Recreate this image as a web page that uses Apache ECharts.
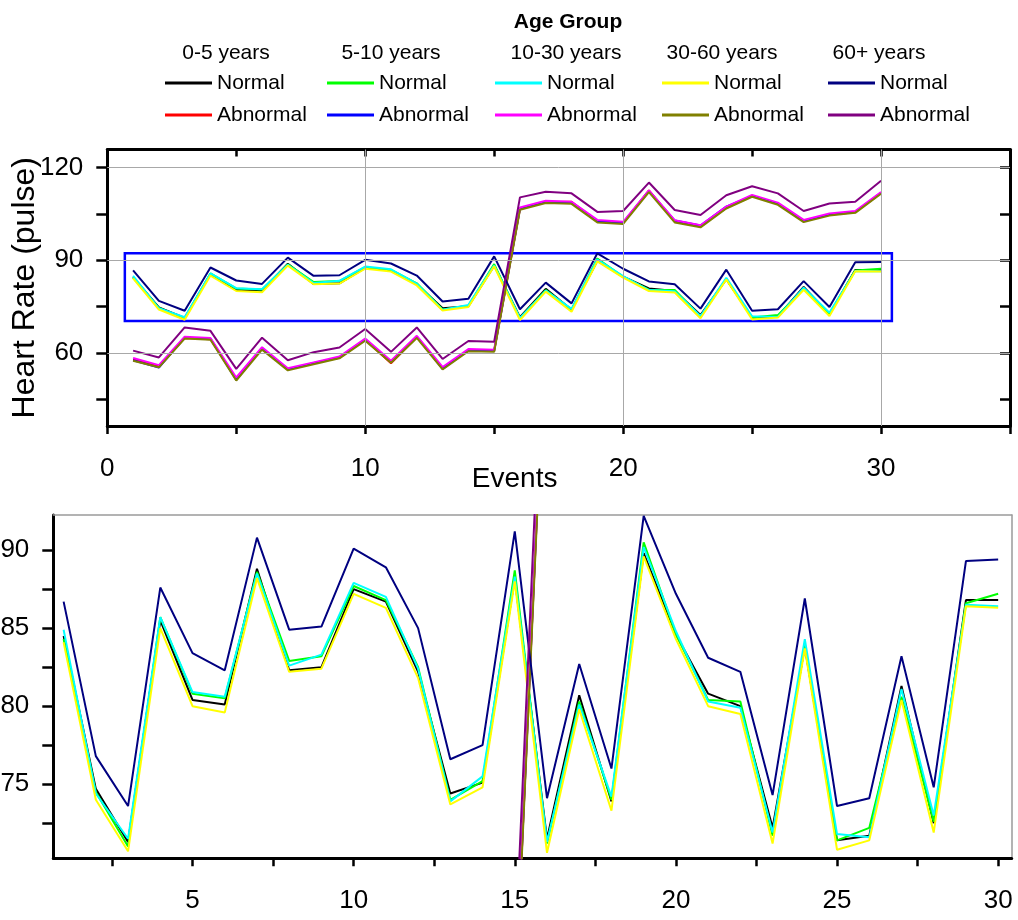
<!DOCTYPE html>
<html>
<head>
<meta charset="utf-8">
<title>Heart Rate by Age Group</title>
<script src="https://cdn.jsdelivr.net/npm/echarts@6/dist/echarts.min.js"></script>
<style>
  html, body { margin: 0; padding: 0; background: #ffffff; }
  #chart { width: 1018px; height: 920px; }
</style>
</head>
<body>
<div id="chart"></div>
<script>
// ---- data -------------------------------------------------------------
const events = [1, 2, 3, 4, 5, 6, 7, 8, 9, 10, 11, 12, 13, 14, 15,
                16, 17, 18, 19, 20, 21, 22, 23, 24, 25, 26, 27, 28, 29, 30];

const groups = ['0-5 years', '5-10 years', '10-30 years', '30-60 years', '60+ years'];

// heart rate (pulse) per event, normal condition
const normal0_5   = [84.5, 74.7, 71.3, 85.5, 80.4, 80.1, 88.8, 82.3, 82.5, 87.5, 86.7, 82.2, 74.4, 75.1, 88.2,
                     71.5, 80.7, 73.9, 89.8, 84.6, 80.8, 80.0, 72.2, 83.8, 71.4, 71.7, 81.3, 72.5, 86.8, 86.8];
const normal5_10  = [84.3, 74.5, 71.0, 85.7, 80.8, 80.5, 88.6, 82.9, 83.2, 87.7, 86.8, 82.5, 74.0, 75.2, 88.7,
                     71.2, 80.3, 74.0, 90.5, 84.6, 80.4, 80.3, 71.7, 83.9, 71.4, 72.2, 80.6, 72.6, 86.6, 87.2];
const normal10_30 = [84.9, 74.4, 71.5, 85.7, 80.9, 80.6, 88.5, 82.6, 83.3, 87.9, 87.0, 82.4, 73.9, 75.5, 88.3,
                     71.3, 80.1, 74.2, 90.2, 84.8, 80.3, 79.9, 71.9, 84.3, 71.8, 71.6, 81.1, 73.0, 86.5, 86.4];
const normal30_60 = [84.1, 74.0, 70.7, 85.0, 80.0, 79.6, 88.2, 82.2, 82.4, 87.2, 86.3, 81.8, 73.7, 74.8, 88.0,
                     70.6, 79.8, 73.3, 89.6, 84.3, 80.0, 79.5, 71.2, 83.7, 70.8, 71.4, 80.4, 71.9, 86.4, 86.3];
const normal60    = [86.7, 76.8, 73.6, 87.6, 83.4, 82.3, 90.8, 84.9, 85.1, 90.1, 88.9, 85.0, 76.6, 77.5, 91.2,
                     74.1, 82.7, 76.0, 92.2, 87.2, 83.1, 82.2, 74.3, 86.9, 73.6, 74.1, 83.2, 74.8, 89.3, 89.4];

// heart rate (pulse) per event, abnormal condition
const abnormal0_5   = [57.9, 55.6, 64.8, 64.4, 51.5, 61.4, 54.6, 56.6, 58.4, 64.2, 56.6, 65.1, 55.0, 60.8, 60.6,
                       106.6, 108.8, 108.9, 102.6, 102.0, 112.6, 102.5, 101.0, 106.9, 110.7, 108.2, 102.6, 104.7, 105.5, 111.7];
const abnormal5_10  = [57.6, 55.2, 64.9, 64.6, 51.2, 61.5, 54.7, 56.7, 58.5, 64.3, 57.0, 65.2, 54.8, 60.9, 60.7,
                       106.7, 108.9, 108.6, 102.5, 102.1, 112.3, 102.8, 101.2, 107.3, 110.8, 108.3, 102.7, 104.8, 105.6, 111.8];
const abnormal10_30 = [58.3, 56.0, 65.2, 64.8, 52.0, 61.8, 55.0, 56.9, 58.8, 64.6, 57.4, 65.5, 55.4, 61.2, 61.0,
                       107.0, 109.2, 108.9, 103.0, 102.4, 112.6, 102.9, 101.3, 107.3, 111.1, 108.6, 103.0, 105.1, 105.9, 112.0];
const abnormal30_60 = [57.4, 55.3, 64.6, 64.2, 51.0, 61.0, 54.3, 56.3, 58.2, 63.9, 56.8, 64.8, 54.6, 60.5, 60.3,
                       106.3, 108.5, 108.2, 102.2, 101.7, 112.0, 102.2, 100.6, 106.7, 110.5, 107.9, 102.3, 104.4, 105.3, 111.5];
const abnormal60    = [60.7, 58.5, 68.2, 67.1, 54.8, 64.9, 57.6, 60.2, 61.7, 67.7, 60.3, 68.2, 58.0, 63.8, 63.6,
                       110.3, 112.1, 111.6, 105.6, 105.9, 115.1, 106.2, 104.6, 111.0, 113.9, 111.6, 105.9, 108.3, 108.9, 115.7];

// axis ticks / labels / reference lines
const topYTicks    = [45, 60, 75, 90, 105, 120];
const topYLabels   = [60, 90, 120];
const topGridX     = [10, 20, 30];
const topGridY     = [60, 90, 120];
// window that the lower panel magnifies (outlined in the upper panel)
const zoomX = [0.68, 30.42];
const zoomY = [70.25, 92.25];
const bottomXTicks  = [2.5, 5, 7.5, 10, 12.5, 15, 17.5, 20, 22.5, 25, 27.5, 30];
const bottomXLabels = [5, 10, 15, 20, 25, 30];
const bottomYTicks  = [72.5, 75, 77.5, 80, 82.5, 85, 87.5, 90];
const bottomYLabels = [75, 80, 85, 90];

// ---- build ------------------------------------------------------------
const FONT = '"Liberation Sans", Arial, Helvetica, sans-serif';

const lines = [
  { group: 0, status: 'Normal',   values: normal0_5,     color: '#000000' },
  { group: 0, status: 'Abnormal', values: abnormal0_5,   color: '#ff0000' },
  { group: 1, status: 'Normal',   values: normal5_10,    color: '#00ff00' },
  { group: 1, status: 'Abnormal', values: abnormal5_10,  color: '#0000ff' },
  { group: 2, status: 'Normal',   values: normal10_30,   color: '#00ffff' },
  { group: 2, status: 'Abnormal', values: abnormal10_30, color: '#ff00ff' },
  { group: 3, status: 'Normal',   values: normal30_60,   color: '#ffff00' },
  { group: 3, status: 'Abnormal', values: abnormal30_60, color: '#808000' },
  { group: 4, status: 'Normal',   values: normal60,      color: '#000080' },
  { group: 4, status: 'Abnormal', values: abnormal60,    color: '#800080' }
];
lines.forEach(l => { l.name = groups[l.group] + ' ' + l.status; });

const pairs = vals => events.map((e, i) => [e, vals[i]]);

function lineSeries(l, panel) {
  return {
    type: 'line',
    name: l.name,
    xAxisIndex: panel * 2,
    yAxisIndex: panel * 2,
    data: pairs(l.values),
    symbol: 'none',
    showSymbol: false,
    clip: true,
    z: 2,
    color: l.color,
    lineStyle: { color: l.color, width: 2 },
    emphasis: { disabled: true }
  };
}

const series = [];
// reference grid lines of the upper panel
series.push({
  type: 'line', name: 'grid', xAxisIndex: 0, yAxisIndex: 0, data: [], z: 1, silent: true,
  markLine: {
    silent: true, symbol: ['none', 'none'], label: { show: false },
    emphasis: { disabled: true },
    lineStyle: { color: '#a8a8a8', width: 1, type: 'solid' },
    data: topGridX.map(v => ({ xAxis: v })).concat(topGridY.map(v => ({ yAxis: v })))
  }
});
lines.forEach(l => series.push(lineSeries(l, 0)));
lines.forEach(l => series.push(lineSeries(l, 1)));
// outline of the magnified window
series.push({
  type: 'line', name: 'window', xAxisIndex: 0, yAxisIndex: 0, data: [], z: 5, silent: true,
  markArea: {
    silent: true, label: { show: false }, emphasis: { disabled: true },
    itemStyle: { color: 'rgba(0,0,0,0)', borderColor: '#0000ff', borderWidth: 2.5 },
    data: [[{ xAxis: zoomX[0], yAxis: zoomY[0] }, { xAxis: zoomX[1], yAxis: zoomY[1] }]]
  }
});

const txt = { color: '#000000', fontFamily: FONT };
const blackLine = { show: true, onZero: false, lineStyle: { color: '#000000', width: 3 } };
const greyLine  = { show: true, onZero: false, lineStyle: { color: '#9a9a9a', width: 1.5 } };
const tickStyle = { color: '#000000', width: 2.5 };

// legend: one block per age group, Normal row and Abnormal row
const colLeft = [165, 327, 495, 662, 828];
const headCenter = [226, 391, 566, 722, 879];
const rowTop = { Normal: 71, Abnormal: 103 };

const legends = lines.map(l => ({
  data: [l.name],
  left: colLeft[l.group],
  top: rowTop[l.status],
  padding: 0,
  icon: 'rect',
  itemWidth: 47,
  itemHeight: 3,
  itemGap: 0,
  selectedMode: false,
  formatter: l.status,
  textStyle: { fontSize: 21, lineHeight: 24, color: '#000000', fontFamily: FONT }
}));

const graphics = [{
  type: 'text', x: 568, y: 22, silent: true,
  style: { text: 'Age Group', align: 'center', verticalAlign: 'middle',
           fontSize: 21, fontWeight: 'bold', fontFamily: FONT, fill: '#000000' }
}].concat(groups.map((g, i) => ({
  type: 'text', x: headCenter[i], y: 53, silent: true,
  style: { text: g, align: 'center', verticalAlign: 'middle',
           fontSize: 21, fontFamily: FONT, fill: '#000000' }
})));

const option = {
  animation: false,
  backgroundColor: '#ffffff',
  legend: legends,
  graphic: graphics,
  grid: [
    { left: 107.3, top: 149.5, width: 902.7, height: 276.5, containLabel: false, outerBoundsMode: 'none' },
    { left: 53.3, top: 515, width: 958.4, height: 343.3, containLabel: false, outerBoundsMode: 'none' }
  ],
  xAxis: [
    { gridIndex: 0, type: 'value', position: 'bottom', min: 0, max: 35, interval: 5,
      axisLine: blackLine,
      axisTick: { show: true, inside: false, length: 8, lineStyle: tickStyle },
      axisLabel: Object.assign({ margin: 30, fontSize: 26,
        formatter: v => (v % 10 === 0 && v < 35) ? String(v) : '' }, txt),
      splitLine: { show: false },
      name: 'Events', nameLocation: 'middle', nameGap: 39, nameMoveOverlap: false,
      nameTextStyle: Object.assign({ fontSize: 28, padding: [0, 88, 0, 0] }, txt) },
    { gridIndex: 0, type: 'value', position: 'top', min: 0, max: 35, interval: 5,
      axisLine: blackLine,
      axisTick: { show: true, inside: true, length: 7, lineStyle: tickStyle },
      axisLabel: { show: false }, splitLine: { show: false } },
    { gridIndex: 1, type: 'value', position: 'bottom', min: zoomX[0], max: zoomX[1],
      axisLine: blackLine,
      axisTick: { show: true, inside: false, length: 8, lineStyle: tickStyle, customValues: bottomXTicks },
      axisLabel: Object.assign({ margin: 30, fontSize: 26, customValues: bottomXLabels }, txt),
      splitLine: { show: false } },
    { gridIndex: 1, type: 'value', position: 'top', min: zoomX[0], max: zoomX[1],
      axisLine: greyLine, axisTick: { show: false }, axisLabel: { show: false }, splitLine: { show: false } }
  ],
  yAxis: [
    { gridIndex: 0, type: 'value', position: 'left', min: 36.3, max: 125.8,
      axisLine: blackLine,
      axisTick: { show: true, inside: false, length: 11, lineStyle: tickStyle, customValues: topYTicks },
      axisLabel: Object.assign({ margin: 24, fontSize: 26, customValues: topYLabels }, txt),
      splitLine: { show: false },
      name: 'Heart Rate (pulse)', nameLocation: 'middle', nameGap: 66, nameMoveOverlap: false,
      nameTextStyle: Object.assign({ fontSize: 32 }, txt) },
    { gridIndex: 0, type: 'value', position: 'right', min: 36.3, max: 125.8,
      axisLine: blackLine,
      axisTick: { show: true, inside: true, length: 10, lineStyle: tickStyle, customValues: topYTicks },
      axisLabel: { show: false }, splitLine: { show: false } },
    { gridIndex: 1, type: 'value', position: 'left', min: zoomY[0], max: zoomY[1],
      axisLine: blackLine,
      axisTick: { show: true, inside: false, length: 11, lineStyle: tickStyle, customValues: bottomYTicks },
      axisLabel: Object.assign({ margin: 24, fontSize: 26, customValues: bottomYLabels }, txt),
      splitLine: { show: false } },
    { gridIndex: 1, type: 'value', position: 'right', min: zoomY[0], max: zoomY[1],
      axisLine: greyLine, axisTick: { show: false }, axisLabel: { show: false }, splitLine: { show: false } }
  ],
  series: series
};

const chart = echarts.init(document.getElementById('chart'), null, { renderer: 'canvas' });
chart.setOption(option);
</script>
</body>
</html>
